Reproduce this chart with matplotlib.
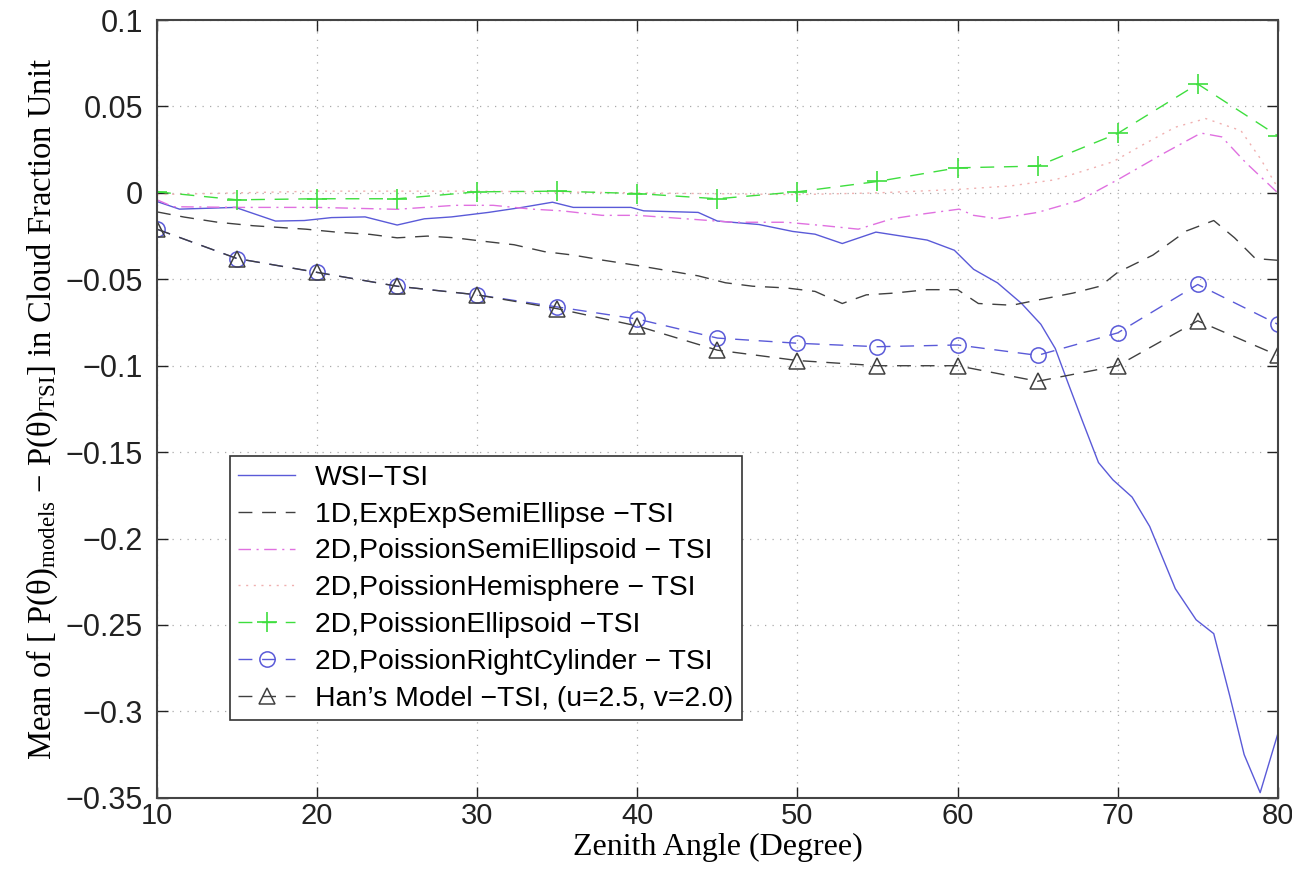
import matplotlib
matplotlib.use('Agg')
import matplotlib.pyplot as plt

plt.rcParams['font.family'] = ['Liberation Sans', 'DejaVu Sans']
plt.rcParams['mathtext.fontset'] = 'custom'
plt.rcParams['mathtext.rm'] = 'Liberation Serif'
plt.rcParams['mathtext.it'] = 'Liberation Serif:italic'

# zenith angles of the marked model points
x5 = [10, 15, 20, 25, 30, 35, 40, 45, 50, 55, 60, 65, 70, 75, 80]

# WSI - TSI (solid blue)
wsi_x = [10, 11.4, 14.9, 17.4, 19.2, 20.9, 23, 25, 26.7, 28.4, 30.7, 32.8, 34.7, 36,
         39.6, 40.4, 43.8, 45, 47.6, 49.7, 51.1, 52.8, 54.9, 58.1, 59.8, 61, 62.5, 64,
         65.2, 66.1, 66.9, 67.8, 68.8, 69.7, 70.9, 72, 73.6, 74.9, 76, 77, 77.9, 78.9, 80]
wsi_y = [-0.005, -0.0094, -0.0084, -0.0163, -0.016, -0.0143, -0.0139, -0.0186, -0.015,
         -0.0139, -0.0113, -0.0084, -0.0054, -0.0084, -0.0084, -0.0104, -0.0113, -0.0163,
         -0.0183, -0.0223, -0.0239, -0.0293, -0.0227, -0.0273, -0.0332, -0.0442, -0.0521,
         -0.064, -0.076, -0.090, -0.110, -0.132, -0.156, -0.166, -0.176, -0.193, -0.229,
         -0.247, -0.255, -0.291, -0.325, -0.347, -0.313]

# 1D ExpExpSemiEllipse
d1_x = [10, 11.7, 13.8, 16, 19.3, 21.2, 23.3, 25, 26.9, 28.6, 30.4, 32.3, 34.2, 36, 37.9,
        40, 41.9, 43.8, 45.5, 47.2, 49.3, 51.1, 52.8, 54.3, 56, 58.1, 60, 61.3, 63.4, 65,
        67.2, 68.9, 70, 72.2, 74.3, 76, 77.3, 78.6, 80]
d1_y = [-0.011, -0.014, -0.017, -0.019, -0.021, -0.0227, -0.024, -0.026, -0.025, -0.026,
        -0.028, -0.030, -0.034, -0.036, -0.039, -0.042, -0.045, -0.048, -0.052, -0.054,
        -0.055, -0.057, -0.064, -0.059, -0.058, -0.056, -0.056, -0.064, -0.065, -0.062,
        -0.058, -0.054, -0.046, -0.036, -0.022, -0.016, -0.026, -0.038, -0.039]

# 2D PoissionSemiEllipsoid
se_x = [10, 11, 15, 20, 25, 28.6, 31, 33.4, 35.3, 37.8, 40, 42, 46, 49.3, 51.7, 53.8,
        55.9, 58, 60.1, 61, 62.5, 65, 67.6, 70, 73, 75.2, 76.5, 78, 80]
se_y = [-0.004, -0.008, -0.0084, -0.0084, -0.0095, -0.0072, -0.0072, -0.0094, -0.0104,
        -0.013, -0.013, -0.0143, -0.017, -0.017, -0.019, -0.021, -0.015, -0.012, -0.0094,
        -0.013, -0.015, -0.0113, -0.0044, 0.0076, 0.0235, 0.0346, 0.0324, 0.0175, 0.000]

# 2D PoissionHemisphere
hs_x = [10, 20, 30, 40, 50, 55, 60, 63.3, 66.1, 69.7, 71.8, 73.6, 75.5, 77.7, 78.9, 80]
hs_y = [-0.001, 0.001, 0.001, 0.0, -0.001, 0.0, 0.002, 0.004, 0.0076, 0.018, 0.029,
        0.038, 0.043, 0.036, 0.02, 0.003]

# 2D PoissionEllipsoid, RightCylinder, Han's model at 5 degree steps
el_y = [0.0006, -0.004, -0.0034, -0.0034, 0.0006, 0.001, -0.0004, -0.0034, 0.0006,
        0.0066, 0.0145, 0.0155, 0.0344, 0.063, 0.033]
rc_y = [-0.021, -0.038, -0.046, -0.054, -0.059, -0.066, -0.073, -0.084, -0.087, -0.089,
        -0.088, -0.094, -0.081, -0.053, -0.076]
han_y = [-0.021, -0.038, -0.046, -0.054, -0.059, -0.067, -0.077, -0.091, -0.097, -0.100,
         -0.100, -0.109, -0.100, -0.074, -0.094]

labels = ['WSI\u2212TSI',
          '1D,ExpExpSemiEllipse \u2212TSI',
          '2D,PoissionSemiEllipsoid \u2212 TSI',
          '2D,PoissionHemisphere \u2212 TSI',
          '2D,PoissionEllipsoid \u2212TSI',
          '2D,PoissionRightCylinder \u2212 TSI',
          'Han\u2019s Model \u2212TSI, (u=2.5, v=2.0)']

fig = plt.figure(figsize=(12.92, 8.71), dpi=100)
ax = fig.add_axes([0.1215, 0.084, 0.8675, 0.893])

lw = 1.0
ax.plot(wsi_x, wsi_y, '-', color='#5a5ad8', lw=lw, label=labels[0])
ax.plot(d1_x, d1_y, color='#404040', lw=lw, dashes=(10, 7), label=labels[1])
ax.plot(se_x, se_y, color='#e070e0', lw=lw, dashes=(9, 4, 1.5, 4), label=labels[2])
ax.plot(hs_x, hs_y, color='#f0b0b0', lw=lw, dashes=(1.5, 4), label=labels[3])
ax.plot(x5, el_y, color='#3ede3e', lw=lw, dashes=(10, 7), marker='+', ms=14, mew=1.2,
        label=labels[4])
ax.plot(x5, rc_y, color='#5a5ad8', lw=lw, dashes=(10, 7), marker='o', ms=11, mfc='none',
        mew=1.1, label=labels[5])
ax.plot(x5, han_y, color='#404040', lw=lw, dashes=(10, 7), marker='^', ms=11, mfc='none',
        mew=1.1, label=labels[6])

ax.set_xlim(10, 80)
ax.set_ylim(-0.35, 0.1)
ax.set_xticks([10, 20, 30, 40, 50, 60, 70, 80])
ax.set_yticks([0.1, 0.05, 0, -0.05, -0.1, -0.15, -0.2, -0.25, -0.3, -0.35])
ax.set_yticklabels(['0.1', '0.05', '0', '\u22120.05', '\u22120.1', '\u22120.15', '\u22120.2',
                    '\u22120.25', '\u22120.3', '\u22120.35'])
ax.tick_params(direction='in', top=True, right=True, length=8, width=1, labelsize=22,
               colors='#222222')
ax.tick_params(axis='y', pad=10)
ax.tick_params(axis='x', pad=3, labelsize=21)
ax.grid(True, linestyle=(0, (1, 5)), color='#aaaaaa', lw=0.9)
for s in ax.spines.values():
    s.set_color('#444444')
    s.set_linewidth(1.5)

ax.set_xlabel('Zenith Angle (Degree)', family='Liberation Serif', fontsize=23, labelpad=2)
ax.set_ylabel('Mean of [ P(\u03b8)$_{\\mathrm{models}}$ \u2212 P(\u03b8)$_{\\mathrm{TSI}}$] in Cloud Fraction Unit',
              family='Liberation Serif', fontsize=23.5, labelpad=4)

leg = ax.legend(loc='lower left', bbox_to_anchor=(0.065, 0.1), fontsize=20.4,
                handlelength=2.0, handletextpad=0.7, labelspacing=0.38, borderpad=0.3,
                fancybox=False, framealpha=1, edgecolor='#333333', borderaxespad=0)
leg.get_frame().set_linewidth(1.2)

fig.savefig('out.png', dpi=100)
